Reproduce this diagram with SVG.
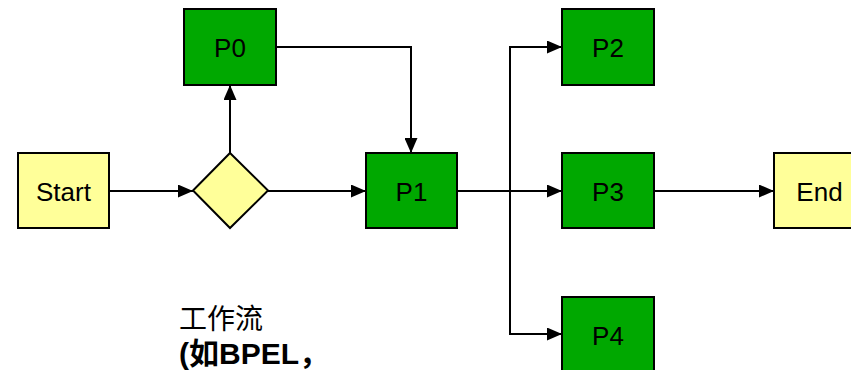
<svg xmlns="http://www.w3.org/2000/svg" width="851" height="370" viewBox="0 0 851 370">
<style>
.g{fill:#00A800;stroke:#000;stroke-width:2}
.y{fill:#FFFF99;stroke:#000;stroke-width:2}
.t{font-family:"Liberation Sans",Arial,sans-serif;font-size:26px;fill:#000;text-anchor:middle}
.c{fill:none;stroke:#000;stroke-width:2}
</style>
<defs>
<marker id="a" viewBox="0 0 15 13" refX="15" refY="6.5" markerWidth="15" markerHeight="13" markerUnits="userSpaceOnUse" orient="auto">
<path d="M0,0 L15,6.5 L0,13 Z" fill="#000"/>
</marker>
</defs>
<g id="connectors">
<path class="c" d="M109,191 H193" marker-end="url(#a)"/>
<path class="c" d="M230,153 V85" marker-end="url(#a)"/>
<path class="c" d="M268,191 H366" marker-end="url(#a)"/>
<path class="c" d="M276,47 H411 V153" marker-end="url(#a)"/>
<path class="c" d="M457,191 H562" marker-end="url(#a)"/>
<path class="c" d="M510,191 V47 H562" marker-end="url(#a)"/>
<path class="c" d="M510,191 V334 H562" marker-end="url(#a)"/>
<path class="c" d="M654,191 H774" marker-end="url(#a)"/>
</g>
<g id="start"><rect class="y" x="18" y="153" width="91" height="75"/><text class="t" x="63.5" y="201">Start</text></g>
<g id="decision"><path class="y" d="M230,153 L268,190.5 L230,228 L193,190.5 Z"/></g>
<g id="p0"><rect class="g" x="184" y="9" width="92" height="76"/><text class="t" x="230" y="57">P0</text></g>
<g id="p1"><rect class="g" x="366" y="153" width="91" height="75"/><text class="t" x="411.5" y="201">P1</text></g>
<g id="p2"><rect class="g" x="562" y="9" width="92" height="76"/><text class="t" x="608" y="57">P2</text></g>
<g id="p3"><rect class="g" x="562" y="153" width="92" height="75"/><text class="t" x="608" y="201">P3</text></g>
<g id="p4"><rect class="g" x="562" y="297" width="92" height="76"/><text class="t" x="608" y="345">P4</text></g>
<g id="end"><rect class="y" x="774" y="153" width="91" height="75"/><text class="t" x="819.5" y="201">End</text></g>
<g id="caption">
<text x="179" y="329" font-size="28" font-family="'Noto Sans CJK SC',sans-serif">工作流</text>
<text x="179" y="364" font-size="30" font-family="'Liberation Sans','Noto Sans CJK SC',sans-serif" font-weight="bold">(如BPEL，</text>
</g>
</svg>
